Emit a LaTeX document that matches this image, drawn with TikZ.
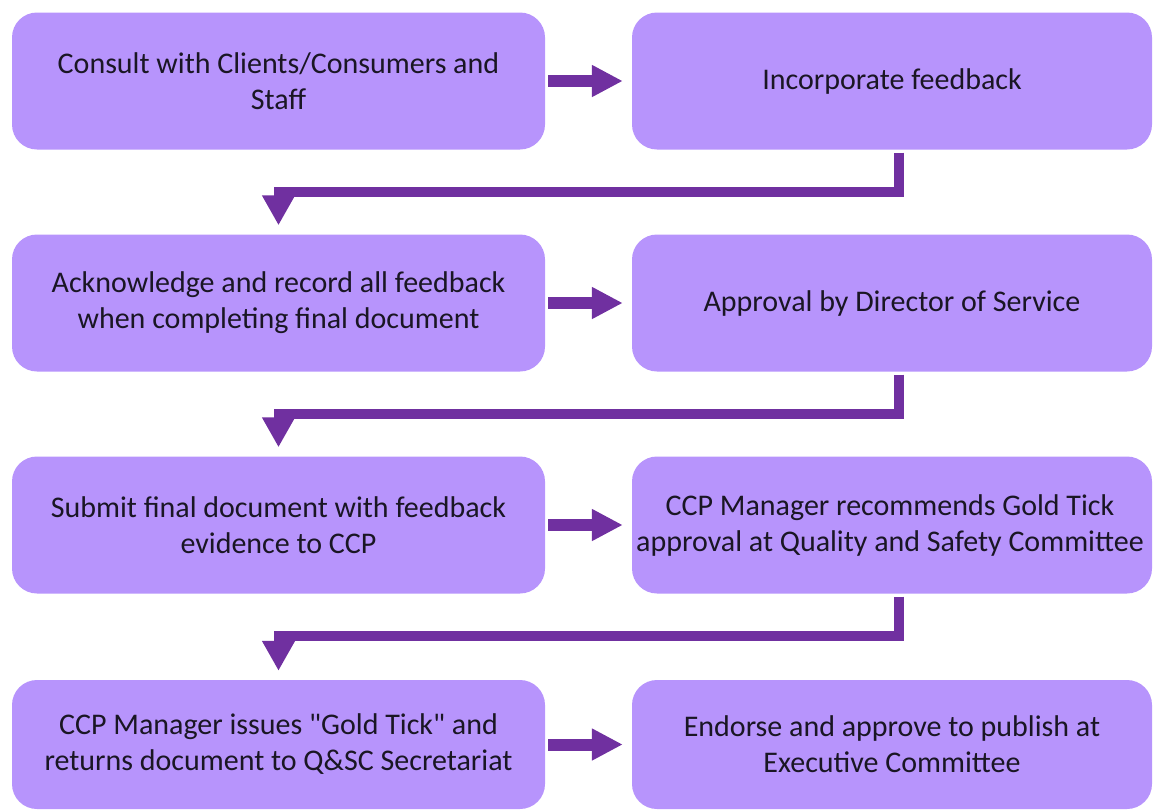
\documentclass[tikz,border=0pt]{standalone}
\usepackage{fontspec}
\setmainfont{Carlito}[Ligatures=TeXOff]
\usetikzlibrary{arrows.meta}
\definecolor{boxfill}{HTML}{B794FC}
\definecolor{arrowpurple}{HTML}{7030A0}
\definecolor{boxtext}{HTML}{1A1624}
\begin{document}
\begin{tikzpicture}[x=1pt,y=-1pt,
  stepbox/.style={rectangle, rounded corners=25pt, fill=boxfill, draw=none,
    align=center, text=boxtext, font=\fontsize{30}{36}\selectfont,
    inner sep=0pt, minimum height=137pt},
  leftbox/.style={stepbox, minimum width=533pt},
  rightbox/.style={stepbox, minimum width=520pt},
  harrow/.style={draw=arrowpurple, line width=12pt,
    -{Triangle[length=31pt,width=30pt]}, shorten <=3pt, shorten >=9pt},
  elbow/.style={draw=arrowpurple, line width=10pt, line join=miter,
    -{Triangle[length=30pt,width=31pt]}}
]
\useasboundingbox (0,0) rectangle (1154,809);

% left column
\node[leftbox] (a1) at (278.5,81) {Consult with Clients/Consumers and\\Staff};
\node[leftbox] (a2) at (278.5,303) {Acknowledge and record all feedback\\when completing final document};
\node[leftbox] (a3) at (278.5,525) {Submit final document with feedback\\evidence to CCP};
\node[leftbox, minimum height=129pt] (a4) at (278.5,744.5) {CCP Manager issues "Gold Tick" and\\returns document to Q\&SC Secretariat};

% right column
\node[rightbox] (b1) at (892,81) {Incorporate feedback};
\node[rightbox] (b2) at (892,303) {Approval by Director of Service};
\node[rightbox] (b3) at (892,525) {\hspace*{-4pt}CCP Manager recommends Gold Tick\\\hspace*{-4pt}approval at Quality and Safety Committee};
\node[rightbox, minimum height=129pt] (b4) at (892,744.5) {Endorse and approve to publish at\\Executive Committee};

% arrows within each row
\draw[harrow] (a1) -- (b1);
\draw[harrow] (a2) -- (b2);
\draw[harrow] (a3) -- (b3);
\draw[harrow] (a4) -- (b4);

% elbow connectors back to the next row
\draw[elbow] ([xshift=7pt,yshift=-3pt]b1.south) -- ++(0,39) -| ([yshift=9pt]a2.north);
\draw[elbow] ([xshift=7pt,yshift=-3pt]b2.south) -- ++(0,39) -| ([yshift=9pt]a3.north);
\draw[elbow] ([xshift=7pt,yshift=-3pt]b3.south) -- ++(0,39) -| ([yshift=9pt]a4.north);
\end{tikzpicture}
\end{document}
